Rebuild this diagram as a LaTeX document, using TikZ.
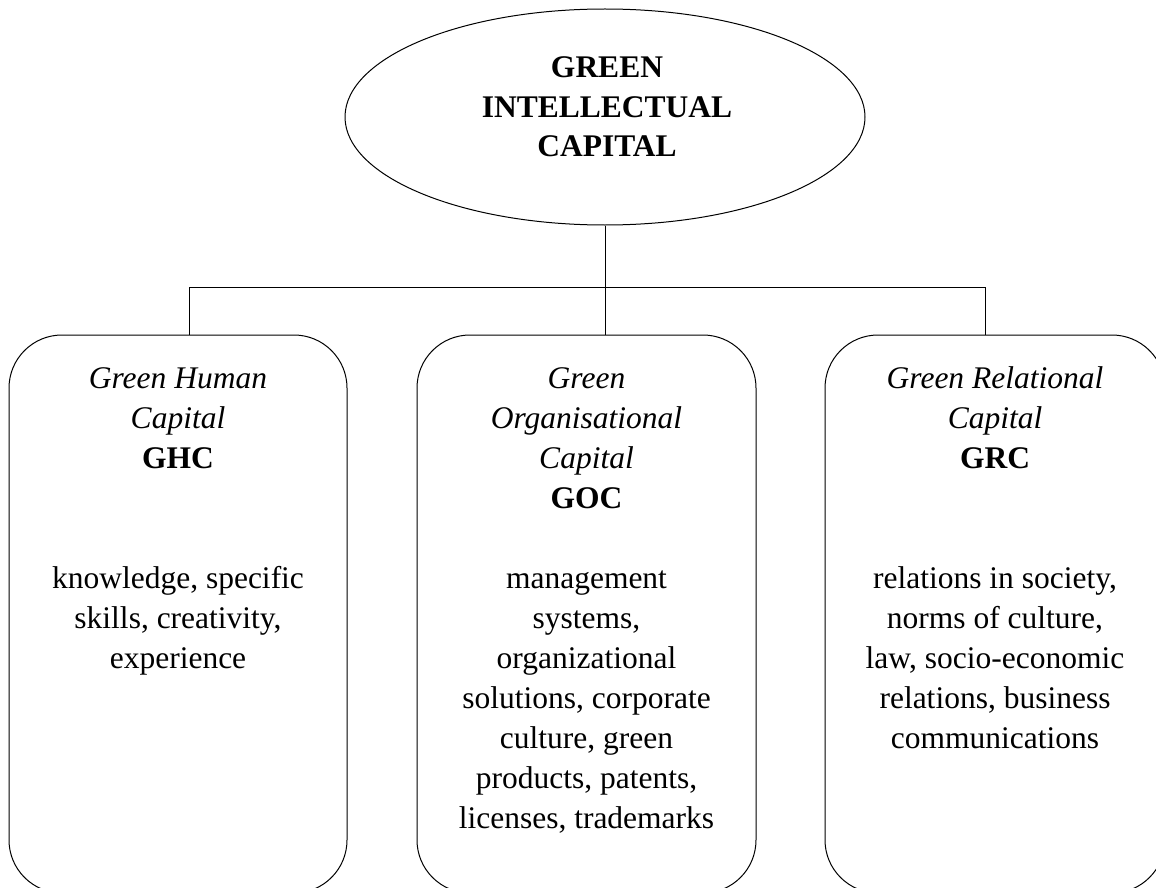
\documentclass[tikz,border=0pt]{standalone}
\usepackage{fontspec}
\setmainfont{Liberation Serif}
\usetikzlibrary{shapes.geometric}
\tikzset{
  line/.style={draw=black, line width=1pt},
  capbox/.style={line, rectangle, rounded corners=53pt, minimum height=558pt, inner sep=0pt},
  txt/.style={anchor=north, inner sep=0pt, align=center, font=\fontsize{31.5}{40}\selectfont},
}
\begin{document}
\begin{tikzpicture}[x=1pt, y=-1pt]
\useasboundingbox (0,0) rectangle (1156,888);
\clip (0,0) rectangle (1156,888);
% top ellipse
\node[line, ellipse, minimum width=520pt, minimum height=216pt, inner sep=0pt] (gic) at (605,117) {};
\node[txt, font=\fontsize{31.5}{39.5}\selectfont\bfseries] (gict) at (607,50) {\strut GREEN\\INTELLECTUAL\\CAPITAL};
% boxes
\node[capbox, minimum width=338pt] (ghc) at (178,614) {};
\node[capbox, minimum width=339pt] (goc) at (586.5,614) {};
\node[capbox, minimum width=340pt] (grc) at (995,614) {};
% box texts
\node[txt] (ghct) at (178,360) {\strut\textit{Green Human}\\\textit{Capital}\\\textbf{GHC}\\[80pt]knowledge, specific\\skills, creativity,\\experience};
\node[txt] (goct) at (586.5,360) {\strut\textit{Green}\\\textit{Organisational}\\\textit{Capital}\\\textbf{GOC}\\[40pt]management\\systems,\\organizational\\solutions, corporate\\culture, green\\products, patents,\\licenses, trademarks};
\node[txt] (grct) at (995,360) {\strut\textit{Green Relational}\\\textit{Capital}\\\textbf{GRC}\\[80pt]relations in society,\\norms of culture,\\law, socio-economic\\relations, business\\communications};
% connectors
\coordinate (jl) at (189,287);
\coordinate (jr) at (985,287);
\draw[line] (jl) -- (jr);
\draw[line] (gic.south) -- (gic.south |- goc.north);
\draw[line] (jl) -- (jl |- ghc.north);
\draw[line] (jr) -- (jr |- grc.north);
\end{tikzpicture}
\end{document}
